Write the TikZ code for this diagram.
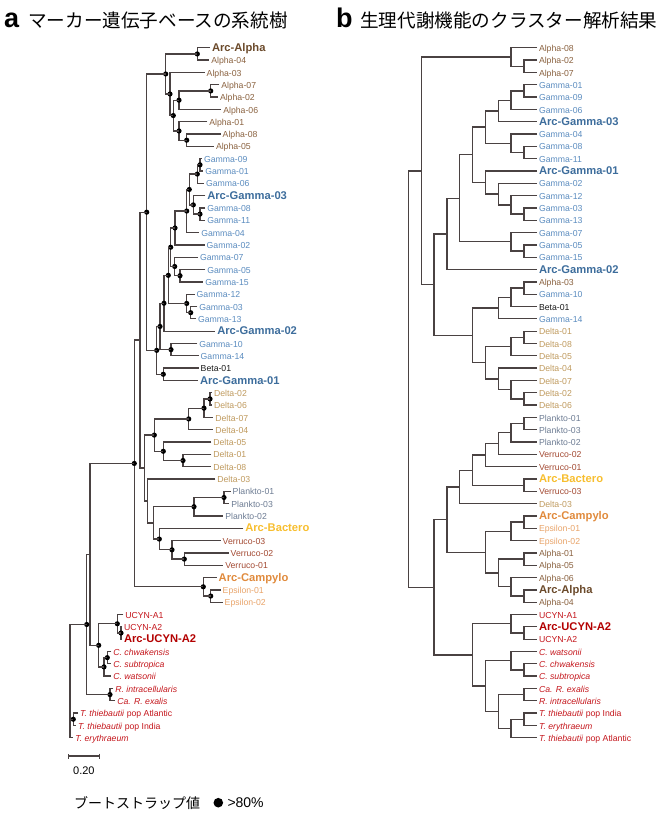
\documentclass[tikz,border=0pt]{standalone}
\usepackage{fontspec}
\setmainfont{Liberation Sans}
\newfontfamily\jpfont{Noto Sans CJK JP}
\usetikzlibrary{calc,positioning,arrows.meta}

\definecolor{cAlpha}{HTML}{8A6240}
\definecolor{cArcAlpha}{HTML}{6B4A2B}
\definecolor{cGamma}{HTML}{5B8CBF}
\definecolor{cArcGamma}{HTML}{3D6D9C}
\definecolor{cBeta}{HTML}{1A1A1A}
\definecolor{cDelta}{HTML}{BF9A5E}
\definecolor{cPlank}{HTML}{6D7C93}
\definecolor{cVerru}{HTML}{A34A33}
\definecolor{cArcBact}{HTML}{F7BE2F}
\definecolor{cArcCamp}{HTML}{E08A3C}
\definecolor{cEps}{HTML}{E8A46A}
\definecolor{cCyano}{HTML}{C4161C}
\definecolor{cArcCyano}{HTML}{B30000}
\definecolor{branchC}{HTML}{4A4242}

\tikzset{
  branch/.style={draw=branchC, line width=1.3pt},
  boot/.style={fill=black},
  leaf/.style={anchor=west, inner xsep=2pt, inner ysep=0pt, outer sep=0pt,
    text height=0.72em, text depth=0pt, font=\fontsize{8.7}{9}\selectfont},
  arclab/.style={font=\bfseries\fontsize{11.2}{12}\selectfont},
  lAlpha/.style={text=cAlpha},
  lArcAlpha/.style={arclab, text=cArcAlpha},
  lGamma/.style={text=cGamma},
  lArcGamma/.style={arclab, text=cArcGamma},
  lBeta/.style={text=cBeta},
  lDelta/.style={text=cDelta},
  lPlank/.style={text=cPlank},
  lVerru/.style={text=cVerru},
  lArcBact/.style={arclab, text=cArcBact},
  lArcCamp/.style={arclab, text=cArcCamp},
  lEps/.style={text=cEps},
  lCyano/.style={text=cCyano},
  lArcCyano/.style={arclab, text=cArcCyano},
  title/.style={anchor=base west, inner sep=0pt},
}

% elbow joining two children at a given x
\newcommand{\clade}[4]{%
  \coordinate (tmp) at ($(#3)!0.5!(#4)$);
  \coordinate (#1) at (#2,0 |- tmp);
  \draw[branch] (#3) -| (#1) |- (#4);}
% same, with bootstrap dot
\newcommand{\bclade}[4]{\clade{#1}{#2}{#3}{#4}\fill[boot] (#1) circle[radius=2.6];}

\begin{document}
\begin{tikzpicture}[x=1pt, y=-1pt]
\useasboundingbox (0,0) rectangle (670,816);

% titles
\node[title, font=\bfseries\fontsize{27}{27}\selectfont] (ta) at (4,27.5) {a};
\node[title, font=\jpfont\fontsize{18.6}{19}\selectfont] (tja) at (28,27.5) {マーカー遺伝子ベースの系統樹};
\node[title, font=\bfseries\fontsize{27}{27}\selectfont] (tb) at (336,27.5) {b};
\node[title, font=\jpfont\fontsize{18.6}{19}\selectfont] (tjb) at (360,27.5) {生理代謝機能のクラスター解析結果};

% ---- panel a: leaves
\foreach \x/\sty/\lab [count=\i] in {
  212/lArcAlpha/Arc-Alpha, 211.3/lAlpha/Alpha-04, 206.7/lAlpha/Alpha-03,
  221.3/lAlpha/Alpha-07, 220/lAlpha/Alpha-02, 223.3/lAlpha/Alpha-06,
  209.3/lAlpha/Alpha-01, 222.7/lAlpha/Alpha-08, 216/lAlpha/Alpha-05,
  204/lGamma/Gamma-09, 205.3/lGamma/Gamma-01, 206/lGamma/Gamma-06,
  207.3/lArcGamma/Arc-Gamma-03, 207.3/lGamma/Gamma-08, 207.3/lGamma/Gamma-11,
  201.3/lGamma/Gamma-04, 206.7/lGamma/Gamma-02, 200/lGamma/Gamma-07,
  207.3/lGamma/Gamma-05, 205.3/lGamma/Gamma-15, 196.7/lGamma/Gamma-12,
  199.3/lGamma/Gamma-03, 198/lGamma/Gamma-13, 217.3/lArcGamma/Arc-Gamma-02,
  199.3/lGamma/Gamma-10, 200.7/lGamma/Gamma-14, 200.7/lBeta/Beta-01,
  200/lArcGamma/Arc-Gamma-01, 214/lDelta/Delta-02, 214/lDelta/Delta-06,
  215.3/lDelta/Delta-07, 215.3/lDelta/Delta-04, 213.3/lDelta/Delta-05,
  213.3/lDelta/Delta-01, 213.3/lDelta/Delta-08, 217.3/lDelta/Delta-03,
  232.7/lPlank/Plankto-01, 231.3/lPlank/Plankto-03, 225.3/lPlank/Plankto-02,
  245.3/lArcBact/Arc-Bactero, 222.7/lVerru/Verruco-03, 230.7/lVerru/Verruco-02,
  225.3/lVerru/Verruco-01, 218.7/lArcCamp/Arc-Campylo, 222.7/lEps/Epsilon-01,
  224.7/lEps/Epsilon-02, 125.3/lCyano/UCYN-A1, 124/lCyano/UCYN-A2,
  124/lArcCyano/Arc-UCYN-A2, 113.3/lCyano/\textit{C. chwakensis},
  113.3/lCyano/\textit{C. subtropica}, 113.3/lCyano/\textit{C. watsonii},
  115.3/lCyano/\textit{R. intracellularis}, 117.3/lCyano/\textit{Ca. R. exalis},
  80/lCyano/\textit{T. thiebautii} pop Atlantic,
  78/lCyano/\textit{T. thiebautii} pop India, 75.3/lCyano/\textit{T. erythraeum}
}{\node[leaf,\sty] (a\i) at ({\x-2},{35.48+12.32*\i}) {\lab};}

% ---- panel a: clades
\bclade{aA1}{197.3}{a1}{a2}
\bclade{aA2}{210.7}{a4}{a5}
\bclade{aA3}{179}{aA2}{a6}
\bclade{aA4}{186.7}{a8}{a9}
\bclade{aA5}{179}{a7}{aA4}
\bclade{aA6}{173.3}{aA3}{aA5}
\bclade{aA7}{170}{a3}{aA6}
\bclade{aA8}{165.7}{aA1}{aA7}
\bclade{aG1}{200}{a10}{a11}
\bclade{aG2}{197.3}{aG1}{a12}
\bclade{aG3}{200}{a14}{a15}
\bclade{aG4}{193.3}{a13}{aG3}
\bclade{aG5}{189.3}{aG2}{aG4}
\bclade{aG6}{186.7}{aG5}{a16}
\bclade{aG7}{175}{aG6}{a17}
\bclade{aG8}{180}{a19}{a20}
\bclade{aG9}{174.7}{a18}{aG8}
\bclade{aG10}{170.7}{aG7}{aG9}
\bclade{aG11}{190.7}{a22}{a23}
\bclade{aG12}{186.7}{a21}{aG11}
\bclade{aG13}{168.3}{aG10}{aG12}
\bclade{aG14}{164}{aG13}{a24}
\bclade{aG15}{171}{a25}{a26}
\bclade{aG16}{160}{aG14}{aG15}
\bclade{aG17}{163.3}{a27}{a28}
\bclade{aG18}{156.7}{aG16}{aG17}
\bclade{aP1}{146.7}{aA8}{aG18}
\bclade{aD1}{210}{a29}{a30}
\bclade{aD2}{204}{aD1}{a31}
\bclade{aD3}{188.7}{aD2}{a32}
\bclade{aD4}{183}{a34}{a35}
\bclade{aD5}{163.3}{a33}{aD4}
\bclade{aD6}{154.3}{aD3}{aD5}
\bclade{aV1}{224}{a37}{a38}
\bclade{aV2}{194}{aV1}{a39}
\bclade{aV3}{184.3}{a42}{a43}
\bclade{aV4}{172}{a41}{aV3}
\bclade{aV5}{159.3}{a40}{aV4}
\clade{aV6}{153.3}{aV2}{aV5}
\clade{aV7}{147.3}{a36}{aV6}
\clade{aD7}{144.5}{aD6}{aV7}
\clade{aP2}{140}{aP1}{aD7}
\bclade{aE1}{210.7}{a45}{a46}
\bclade{aE2}{203.3}{a44}{aE1}
\bclade{aP3}{134.3}{aP2}{aE2}
\bclade{aC1}{121}{a48}{a49}
\bclade{aC2}{117.3}{a47}{aC1}
\bclade{aC3}{107.3}{a50}{a51}
\bclade{aC4}{104}{aC3}{a52}
\bclade{aC5}{98.7}{aC2}{aC4}
\bclade{aR1}{110}{a53}{a54}
\clade{aQ1}{90}{aP3}{aC5}
\bclade{aQ2}{86.7}{aQ1}{aR1}
\bclade{aT1}{73.3}{a55}{a56}
\coordinate (aR) at (70,0 |- aQ2);
\draw[branch] (aQ2) -| (aR) |- (a57);
\draw[branch] (aT1) -- (aT1 -| aR);

% scale bar
\coordinate (sb1) at (67.7,756);
\coordinate (sb2) at (100,756);
\draw[branch, line width=1.1pt, {Bar[width=5pt]}-{Bar[width=5pt]}] (sb1) -- (sb2);
\node[font=\fontsize{11}{11}\selectfont, below=7pt of $(sb1)!0.5!(sb2)$] (sbl) {0.20};

% legend
\node[title, font=\jpfont\fontsize{14}{14}\selectfont] (bsl) at (74,808) {ブートストラップ値};
\node[circle, fill, inner sep=0pt, minimum size=9.6pt] (bsdot) at (218.3,802.7) {};
\node[right=4pt of bsdot, inner sep=0pt, font=\fontsize{14}{14}\selectfont] (bsv) {>80\%};

% ---- panel b: leaves
\foreach \sty/\lab [count=\i] in {
  lAlpha/Alpha-08, lAlpha/Alpha-02, lAlpha/Alpha-07, lGamma/Gamma-01,
  lGamma/Gamma-09, lGamma/Gamma-06, lArcGamma/Arc-Gamma-03, lGamma/Gamma-04,
  lGamma/Gamma-08, lGamma/Gamma-11, lArcGamma/Arc-Gamma-01, lGamma/Gamma-02,
  lGamma/Gamma-12, lGamma/Gamma-03, lGamma/Gamma-13, lGamma/Gamma-07,
  lGamma/Gamma-05, lGamma/Gamma-15, lArcGamma/Arc-Gamma-02, lAlpha/Alpha-03,
  lGamma/Gamma-10, lBeta/Beta-01, lGamma/Gamma-14, lDelta/Delta-01,
  lDelta/Delta-08, lDelta/Delta-05, lDelta/Delta-04, lDelta/Delta-07,
  lDelta/Delta-02, lDelta/Delta-06, lPlank/Plankto-01, lPlank/Plankto-03,
  lPlank/Plankto-02, lVerru/Verruco-02, lVerru/Verruco-01, lArcBact/Arc-Bactero,
  lVerru/Verruco-03, lDelta/Delta-03, lArcCamp/Arc-Campylo, lEps/Epsilon-01,
  lEps/Epsilon-02, lAlpha/Alpha-01, lAlpha/Alpha-05, lAlpha/Alpha-06,
  lArcAlpha/Arc-Alpha, lAlpha/Alpha-04, lCyano/UCYN-A1, lArcCyano/Arc-UCYN-A2,
  lCyano/UCYN-A2, lCyano/\textit{C. watsonii}, lCyano/\textit{C. chwakensis},
  lCyano/\textit{C. subtropica}, lCyano/\textit{Ca. R. exalis},
  lCyano/\textit{R. intracellularis}, lCyano/\textit{T. thiebautii} pop India,
  lCyano/\textit{T. erythraeum}, lCyano/\textit{T. thiebautii} pop Atlantic
}{\node[leaf,\sty] (b\i) at (537,{35.48+12.32*\i}) {\lab};}

% ---- panel b: clades (levels 408.3 + 12.85k)
\clade{bA1}{524}{b2}{b3}
\clade{bA2}{511.1}{b1}{bA1}
\clade{bG1}{524}{b4}{b5}
\clade{bG2}{511.1}{bG1}{b6}
\clade{bG3}{498.3}{bG2}{b7}
\clade{bG4}{524}{b9}{b10}
\clade{bG5}{511.1}{b8}{bG4}
\clade{bG6}{485.4}{bG3}{bG5}
\clade{bG7}{524}{b14}{b15}
\clade{bG8}{511.1}{b13}{bG7}
\clade{bG9}{498.3}{b12}{bG8}
\clade{bG10}{485.4}{b11}{bG9}
\clade{bG11}{472.6}{bG6}{bG10}
\clade{bG12}{524}{b17}{b18}
\clade{bG13}{511.1}{b16}{bG12}
\clade{bG14}{459.7}{bG11}{bG13}
\clade{bG15}{446.9}{bG14}{b19}
\clade{bX1}{524}{b20}{b21}
\clade{bX2}{511.1}{bX1}{b22}
\clade{bX3}{498.3}{bX2}{b23}
\clade{bD1}{524}{b24}{b25}
\clade{bD2}{511.1}{bD1}{b26}
\clade{bD3}{524}{b29}{b30}
\clade{bD4}{511.1}{b28}{bD3}
\clade{bD5}{498.3}{b27}{bD4}
\clade{bD6}{485.4}{bD2}{bD5}
\clade{bX4}{472.6}{bX3}{bD6}
\clade{bH}{434}{bG15}{bX4}
\clade{bTop}{421.2}{bA2}{bH}
\clade{bP1}{524}{b31}{b32}
\clade{bP2}{511.1}{bP1}{b33}
\clade{bP3}{498.3}{bP2}{b34}
\clade{bP4}{485.4}{bP3}{b35}
\clade{bV1}{524}{b36}{b37}
\clade{bP5}{472.6}{bP4}{bV1}
\clade{bP6}{459.7}{bP5}{b38}
\clade{bE1}{524}{b39}{b40}
\clade{bE2}{511.1}{bE1}{b41}
\clade{bL1}{524}{b42}{b43}
\clade{bL2}{524}{b45}{b46}
\clade{bL3}{511.1}{b44}{bL2}
\clade{bL4}{498.3}{bL1}{bL3}
\clade{bE3}{485.4}{bE2}{bL4}
\clade{bM}{446.9}{bP6}{bE3}
\clade{bC1}{524}{b48}{b49}
\clade{bC2}{511.1}{b47}{bC1}
\clade{bC3}{524}{b51}{b52}
\clade{bC4}{511.1}{b50}{bC3}
\clade{bC5}{524}{b53}{b54}
\clade{bC6}{524}{b55}{b56}
\clade{bC7}{511.1}{bC6}{b57}
\clade{bC8}{498.3}{bC5}{bC7}
\clade{bC9}{485.4}{bC4}{bC8}
\clade{bC10}{472.6}{bC2}{bC9}
\clade{bBot}{434}{bM}{bC10}
\clade{bRoot}{408.3}{bTop}{bBot}
\end{tikzpicture}
\end{document}
